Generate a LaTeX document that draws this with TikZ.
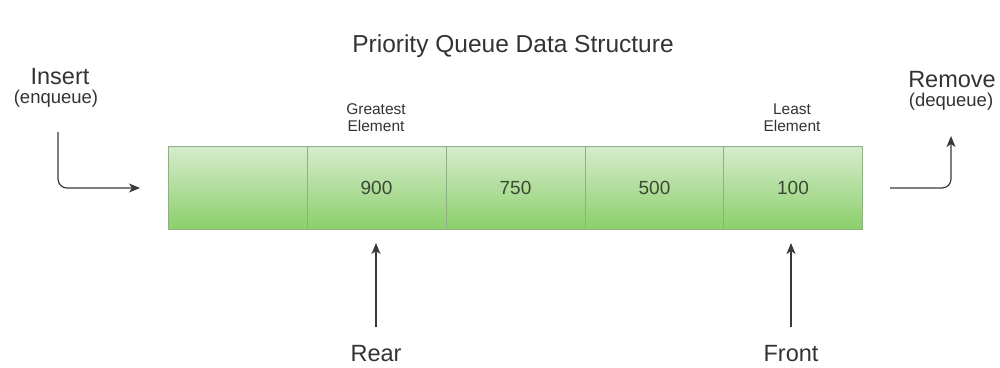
\documentclass[tikz,border=0pt]{standalone}
\usepackage{fontspec}
\setmainfont{Liberation Sans}
\usetikzlibrary{arrows.meta}
\definecolor{txt}{HTML}{333333}
\definecolor{numtxt}{HTML}{3A4934}
\definecolor{celltop}{HTML}{D6ECCD}
\definecolor{cellbot}{HTML}{8CCF6B}
\definecolor{cellline}{HTML}{8FAF84}
\definecolor{arr}{HTML}{3A3A3A}
\tikzset{
  cell/.style={rectangle, draw=cellline, line width=0.8pt, top color=celltop, bottom color=cellbot,
    minimum width=139pt, minimum height=83pt, inner sep=0pt, outer sep=0pt,
    text=numtxt, font=\fontsize{19}{22}\selectfont},
  bigtxt/.style={text=txt, font=\fontsize{23.5}{27}\selectfont, inner sep=0pt},
  titletxt/.style={text=txt, font=\fontsize{24.5}{28}\selectfont, inner sep=0pt},
  midtxt/.style={text=txt, font=\fontsize{18.5}{22}\selectfont, inner sep=0pt},
  smalltxt/.style={text=txt, font=\fontsize{15.5}{17}\selectfont, align=center, inner sep=0pt},
  conn/.style={draw=arr, line width=1.2pt, -{Stealth[length=11pt,width=9pt,inset=3pt]}},
}
\begin{document}
\begin{tikzpicture}[x=1pt,y=-1pt]
\useasboundingbox (0,0) rectangle (1000,367);
\node[titletxt] (title) at (513,46) {Priority Queue Data Structure};
% cells
\node[cell] (c0) at (237.5,187.5) {};
\node[cell] (c1) at (376.5,187.5) {900};
\node[cell] (c2) at (515.5,187.5) {750};
\node[cell] (c3) at (654.5,187.5) {500};
\node[cell] (c4) at (793,187.5) {100};
% labels above
\node[smalltxt] (great) at (376,118) {Greatest\\Element};
\node[smalltxt] (least) at (792,118) {Least\\Element};
% insert / remove
\node[bigtxt] (ins) at (60,77) {Insert};
\node[midtxt] (enq) at (56,99) {(enqueue)};
\node[bigtxt] (rem) at (952,80) {Remove};
\node[midtxt] (deq) at (951,102) {(dequeue)};
\node[bigtxt] (rear) at (376,354) {Rear};
\node[bigtxt] (front) at (791,354) {Front};
% connector ends
\coordinate (insS) at (58,132);
\coordinate (insE) at (140,188);
\coordinate (remS) at (890,188);
\coordinate (remE) at (951,136);
\coordinate (rearS) at (376,327);
\coordinate (rearE) at (376,243);
\coordinate (frontS) at (791,327);
\coordinate (frontE) at (791,243);
\draw[conn, rounded corners=9pt] (insS) |- (insE);
\draw[conn, rounded corners=9pt] (remS) -| (remE);
\draw[conn] (rearS) -- (rearE);
\draw[conn] (frontS) -- (frontE);
\end{tikzpicture}
\end{document}
